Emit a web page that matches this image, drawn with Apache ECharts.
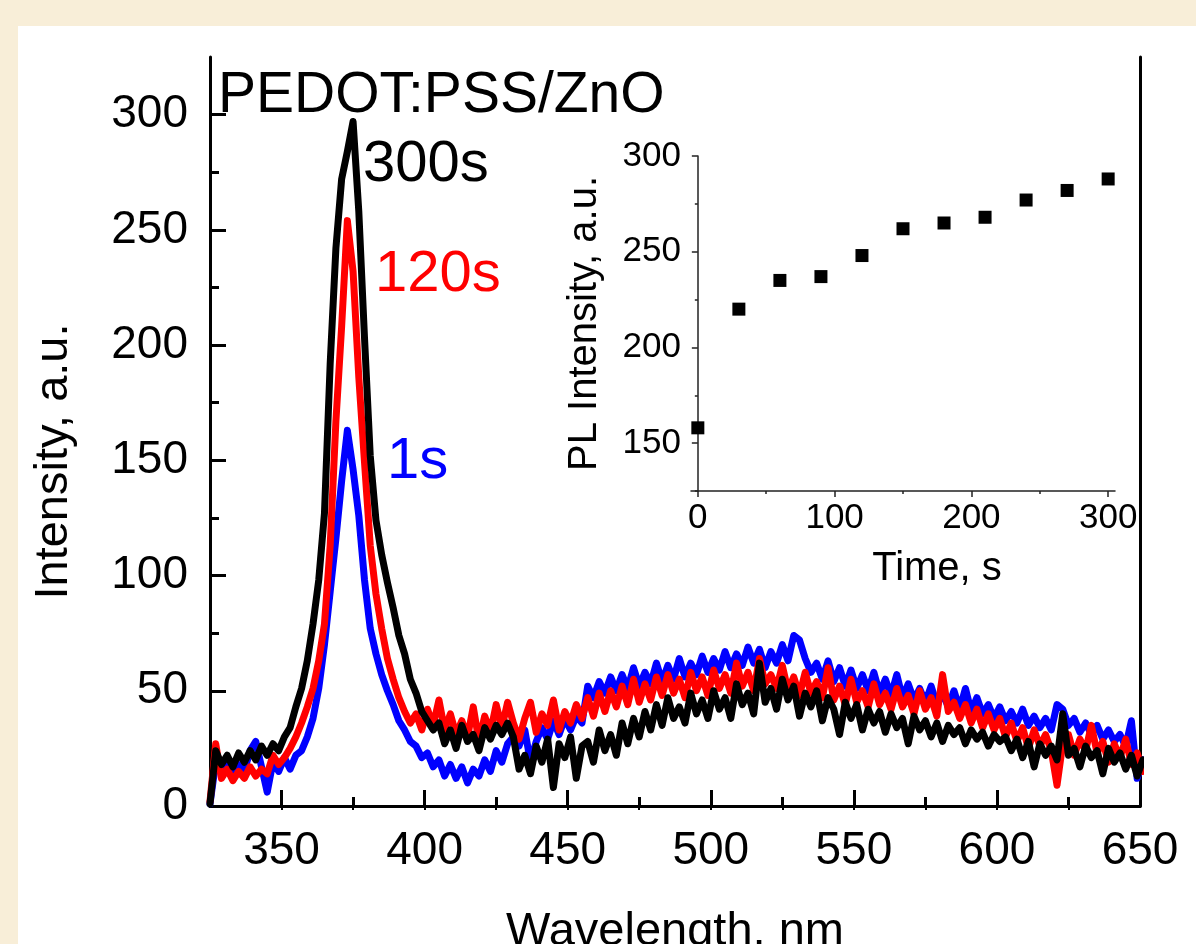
<!DOCTYPE html>
<html>
<head>
<meta charset="utf-8">
<title>PEDOT:PSS/ZnO PL</title>
<script src="https://cdn.jsdelivr.net/npm/echarts@6.0.0/dist/echarts.min.js"></script>
<style>
  html, body { margin: 0; padding: 0; }
  body { width: 1196px; height: 944px; background: #f8eed8; position: relative; overflow: hidden; }
  #panel { position: absolute; left: 18px; top: 26px; right: 0; bottom: 0; background: #fff; }
  #chart { position: absolute; left: 0; top: 0; width: 1196px; height: 944px; }
</style>
</head>
<body>
<div id="panel"></div>
<div id="chart"></div>
<script>
// spectra sampled every 2 nm starting at 325 nm
const wlStart = 325;
const wlStep = 2;

// 1 s (blue)
const pl1s = [
  1, 19, 14, 21, 13, 18, 15, 24, 28, 17,
  6, 19, 15, 21, 16, 22, 24, 30, 38, 51,
  70, 93, 116, 141, 163, 146, 126, 98, 77, 66,
  57, 50, 44, 37, 33, 28, 26, 21, 23, 17,
  20, 13, 18, 12, 17, 10, 16, 13, 20, 15,
  24, 19, 27, 30, 26, 33, 19, 28, 34, 29,
  37, 31, 38, 33, 39, 36, 52, 47, 54, 49,
  56, 50, 57, 51, 60, 52, 58, 53, 62, 54,
  61, 55, 64, 56, 62, 57, 65, 58, 64, 59,
  67, 60, 66, 61, 69, 62, 68, 60, 67, 62,
  70, 63, 74, 72, 64, 58, 62, 55, 63, 54,
  60, 52, 59, 51, 57, 50, 58, 49, 55, 48,
  57, 47, 53, 46, 51, 45, 52, 44, 49, 43,
  50, 42, 51, 41, 47, 40, 44, 38, 43, 37,
  41, 36, 42, 35, 39, 34, 38, 33, 44, 42,
  35, 38, 32, 36, 31, 35, 29, 33, 28, 31,
  26, 37, 12, 20
];

// 120 s (red)
const pl120s = [
  2, 27, 12, 16, 11, 15, 12, 17, 13, 16,
  14, 22, 18, 21, 25, 30, 36, 43, 51, 63,
  79, 113, 167, 208, 254, 232, 186, 149, 113, 92,
  77, 64, 55, 47, 41, 36, 40, 33, 42, 35,
  46, 33, 40, 31, 37, 30, 43, 28, 39, 32,
  44, 34, 45, 36, 29, 38, 45, 32, 40, 35,
  46, 33, 41, 36, 44, 38, 47, 39, 49, 41,
  50, 43, 52, 44, 55, 45, 53, 46, 56, 48,
  57, 49, 55, 47, 58, 50, 56, 48, 59, 51,
  57, 49, 62, 52, 58, 50, 64, 53, 57, 51,
  61, 50, 56, 48, 58, 49, 54, 47, 60, 46,
  52, 44, 55, 45, 50, 43, 53, 44, 49, 42,
  51, 43, 48, 40, 50, 42, 47, 39, 57, 41,
  45, 38, 44, 36, 42, 34, 40, 33, 38, 30,
  36, 28, 34, 25, 33, 26, 31, 24, 9, 27,
  31, 22, 29, 24, 35, 23, 28, 19, 27, 21,
  29, 18, 23, 15
];

// 300 s (black)
const pl300s = [
  1, 24, 18, 22, 17, 23, 19, 24, 20, 26,
  22, 27, 24, 30, 34, 43, 51, 63, 79, 98,
  127, 192, 242, 272, 284, 297, 258, 203, 152, 124,
  109, 97, 86, 74, 66, 55, 49, 41, 37, 33,
  36, 27, 33, 25, 35, 28, 31, 24, 34, 29,
  35, 31, 36, 30, 16, 22, 14, 26, 19, 29,
  8, 27, 21, 30, 12, 26, 28, 19, 33, 24,
  31, 22, 36, 27, 38, 30, 41, 33, 44, 35,
  47, 38, 43, 36, 49, 40, 46, 38, 50, 42,
  47, 38, 53, 44, 49, 40, 62, 45, 51, 42,
  55, 46, 52, 39, 49, 43, 50, 37, 47, 42,
  31, 45, 38, 44, 33, 42, 36, 41, 32, 40,
  34, 38, 27, 39, 33, 37, 30, 36, 28, 35,
  31, 34, 27, 33, 29, 32, 26, 31, 28, 30,
  24, 29, 21, 28, 17, 27, 22, 26, 20, 40,
  22, 25, 17, 26, 21, 24, 14, 25, 19, 23,
  16, 22, 13, 20
];

// inset
const times = [0, 30, 60, 90, 120, 150, 180, 210, 240, 270, 300];
const plPeak = [158, 220, 235, 237, 248, 262, 265, 268, 277, 282, 288];

const xMajor = [350, 400, 450, 500, 550, 600, 650];
const xMinor = [375, 425, 475, 525, 575, 625];
const yMajor = [0, 50, 100, 150, 200, 250, 300];
const yMinor = [25, 75, 125, 175, 225, 275];
const tMajor = [0, 100, 200, 300];
const tMinor = [50, 150, 250];
const iMajor = [150, 200, 250, 300];
const iMinor = [125, 175, 225, 275];

const FONT = '"Liberation Sans", Arial, sans-serif';

function toPairs(values) {
  return values.map((v, i) => [wlStart + i * wlStep, v]);
}

const chart = echarts.init(document.getElementById('chart'), null, { renderer: 'canvas' });

const blackLine = { color: '#000', width: 3 };
const insetLine = { color: '#222', width: 1.5 };

const option = {
  animation: false,
  backgroundColor: 'transparent',
  grid: [
    { left: 210, top: 57, right: 56, bottom: 138, outerBoundsMode: 'none', containLabel: false },
    { left: 691, top: 156, right: 81, bottom: 453, outerBoundsMode: 'none', containLabel: false }
  ],
  xAxis: [
    {
      gridIndex: 0, type: 'value', min: 325, max: 650, position: 'bottom',
      axisLine: { lineStyle: blackLine },
      axisTick: { inside: true, length: 16, lineStyle: blackLine, customValues: xMajor },
      axisLabel: { customValues: xMajor, fontSize: 46, fontFamily: FONT, color: '#000', margin: 22 },
      splitLine: { show: false },
      name: 'Wavelength, nm', nameLocation: 'middle', nameGap: 103,
      nameTextStyle: { fontSize: 47, fontFamily: FONT, color: '#000' }
    },
    {
      gridIndex: 0, type: 'value', min: 325, max: 650, position: 'bottom',
      axisLine: { show: false },
      axisTick: { inside: true, length: 9, lineStyle: blackLine, customValues: xMinor },
      axisLabel: { show: false }, splitLine: { show: false }
    },
    {
      gridIndex: 0, type: 'value', min: 325, max: 650, position: 'top',
      axisLine: { lineStyle: blackLine },
      axisTick: { inside: true, length: 4, lineStyle: { color: '#000', width: 2 },
        customValues: [350, 375, 400, 425, 450, 475, 500, 525, 550, 575, 600, 625] },
      axisLabel: { show: false }, splitLine: { show: false }
    },
    {
      gridIndex: 1, type: 'value', min: -5, max: 305, position: 'bottom',
      axisLine: { lineStyle: insetLine },
      axisTick: { inside: false, length: 6, lineStyle: insetLine, customValues: tMajor },
      axisLabel: { customValues: tMajor, fontSize: 35, fontFamily: FONT, color: '#000', margin: 10 },
      splitLine: { show: false },
      name: 'Time, s', nameLocation: 'middle', nameGap: 58,
      nameTextStyle: { fontSize: 40, fontFamily: FONT, color: '#000', padding: [0, 0, 0, 68] }
    },
    {
      gridIndex: 1, type: 'value', min: -5, max: 305, position: 'bottom',
      axisLine: { show: false },
      axisTick: { inside: false, length: 3, lineStyle: insetLine, customValues: tMinor },
      axisLabel: { show: false }, splitLine: { show: false }
    }
  ],
  yAxis: [
    {
      gridIndex: 0, type: 'value', min: 0, max: 325, position: 'left',
      axisLine: { lineStyle: blackLine },
      axisTick: { inside: true, length: 16, lineStyle: blackLine, customValues: yMajor },
      axisLabel: { customValues: yMajor, fontSize: 46, fontFamily: FONT, color: '#000', margin: 22 },
      splitLine: { show: false },
      name: 'Intensity, a.u.', nameLocation: 'middle', nameGap: 132,
      nameTextStyle: { fontSize: 47, fontFamily: FONT, color: '#000', padding: [0, 60, 0, 0] }
    },
    {
      gridIndex: 0, type: 'value', min: 0, max: 325, position: 'left',
      axisLine: { show: false },
      axisTick: { inside: true, length: 9, lineStyle: blackLine, customValues: yMinor },
      axisLabel: { show: false }, splitLine: { show: false }
    },
    {
      gridIndex: 0, type: 'value', min: 0, max: 325, position: 'right',
      axisLine: { lineStyle: blackLine },
      axisTick: { show: false }, axisLabel: { show: false }, splitLine: { show: false }
    },
    {
      gridIndex: 1, type: 'value', min: 125, max: 300, position: 'left',
      axisLine: { lineStyle: insetLine },
      axisTick: { inside: false, length: 6, lineStyle: insetLine, customValues: iMajor },
      axisLabel: { customValues: iMajor, fontSize: 35, fontFamily: FONT, color: '#000', margin: 10 },
      splitLine: { show: false },
      name: 'PL Intensity, a.u.', nameLocation: 'middle', nameGap: 86,
      nameTextStyle: { fontSize: 40, fontFamily: FONT, color: '#000' }
    },
    {
      gridIndex: 1, type: 'value', min: 125, max: 300, position: 'left',
      axisLine: { show: false },
      axisTick: { inside: false, length: 3, lineStyle: insetLine, customValues: iMinor },
      axisLabel: { show: false }, splitLine: { show: false }
    }
  ],
  series: [
    {
      name: '1s', type: 'line', xAxisIndex: 0, yAxisIndex: 0,
      data: toPairs(pl1s), showSymbol: false, symbol: 'none',
      lineStyle: { color: '#0000ff', width: 7, join: 'round', cap: 'round' }
    },
    {
      name: '120s', type: 'line', xAxisIndex: 0, yAxisIndex: 0,
      data: toPairs(pl120s), showSymbol: false, symbol: 'none',
      lineStyle: { color: '#ff0000', width: 7, join: 'round', cap: 'round' }
    },
    {
      name: '300s', type: 'line', xAxisIndex: 0, yAxisIndex: 0,
      data: toPairs(pl300s), showSymbol: false, symbol: 'none',
      lineStyle: { color: '#000000', width: 7, join: 'round', cap: 'round' }
    },
    {
      name: 'PL peak', type: 'scatter', xAxisIndex: 3, yAxisIndex: 3,
      data: times.map((t, i) => [t, plPeak[i]]),
      symbol: 'rect', symbolSize: 13, itemStyle: { color: '#000', opacity: 1 }
    }
  ],
  graphic: [
    { type: 'text', x: 218, y: 96, z: 100,
      style: { text: 'PEDOT:PSS/ZnO', font: '57px ' + FONT, fill: '#000',
        align: 'left', verticalAlign: 'middle', textAlign: 'left', textVerticalAlign: 'middle' } },
    { type: 'text', x: 363, y: 165, z: 100,
      style: { text: '300s', font: '58px ' + FONT, fill: '#000',
        align: 'left', verticalAlign: 'middle', textAlign: 'left', textVerticalAlign: 'middle' } },
    { type: 'text', x: 375, y: 275, z: 100,
      style: { text: '120s', font: '58px ' + FONT, fill: '#ff0000',
        align: 'left', verticalAlign: 'middle', textAlign: 'left', textVerticalAlign: 'middle' } },
    { type: 'text', x: 387, y: 462, z: 100,
      style: { text: '1s', font: '58px ' + FONT, fill: '#0000ff',
        align: 'left', verticalAlign: 'middle', textAlign: 'left', textVerticalAlign: 'middle' } }
  ]
};

chart.setOption(option);
</script>
</body>
</html>
